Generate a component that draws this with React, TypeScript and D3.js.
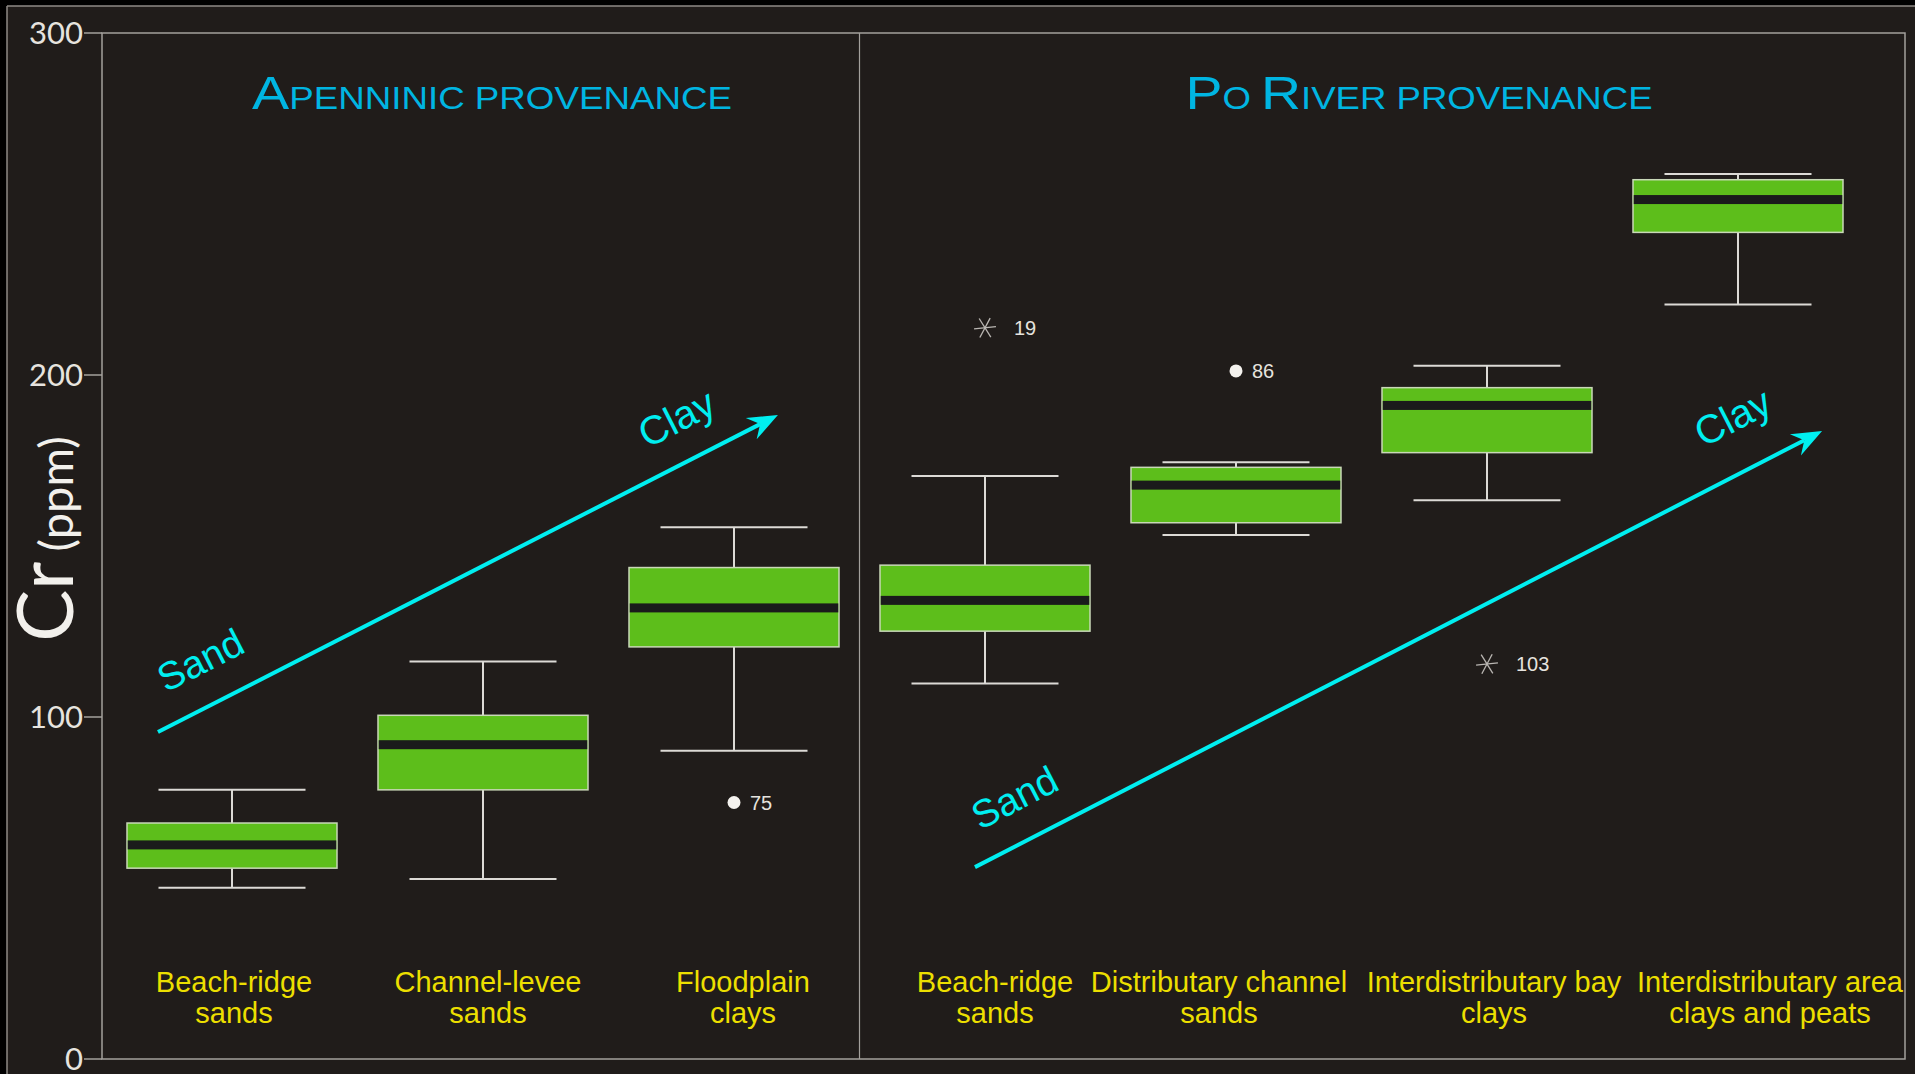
import React from "react";
import * as d3 from "d3";

// Depositional environments (x categories), grouped by provenance
const categories = [
  "Beach-ridge sands (A)",
  "Channel-levee sands",
  "Floodplain clays",
  "Beach-ridge sands (P)",
  "Distributary channel sands",
  "Interdistributary bay clays",
  "Interdistributary area clays and peats",
];
const categoryLines = [
  ["Beach-ridge", "sands"],
  ["Channel-levee", "sands"],
  ["Floodplain", "clays"],
  ["Beach-ridge", "sands"],
  ["Distributary channel", "sands"],
  ["Interdistributary bay", "clays"],
  ["Interdistributary area", "clays and peats"],
];

// Box-plot statistics, Cr (ppm)
const whiskerLow = [50.1, 52.6, 90.1, 109.8, 153.2, 163.4, 220.6];
const q1 = [55.8, 78.7, 120.5, 125.1, 156.8, 177.3, 241.7];
const median = [62.6, 91.9, 131.9, 134.1, 167.8, 191.1, 251.3];
const q3 = [69.0, 100.5, 143.7, 144.4, 173.0, 196.3, 257.1];
const whiskerHigh = [78.7, 116.2, 155.5, 170.5, 174.5, 202.7, 258.8];

// Outliers: category index, value, case label, marker kind
const outlierCat = [2, 3, 4, 5];
const outlierValue = [75, 213.8, 201.2, 115.5];
const outlierLabel = ["75", "19", "86", "103"];
const outlierKind = ["circle", "star", "circle", "star"];

const yTicks = [0, 100, 200, 300];

// Trend annotations (x as fractional category index, y in ppm)
const trendStart = [
  [-0.295, 95.6],
  [2.96, 56.1],
];
const trendEnd = [
  [2.175, 188.3],
  [6.335, 183.6],
];
const sandPos = [
  [-0.12, 115.8],
  [3.124, 75.6],
];
const clayPos = [
  [1.777, 186.5],
  [5.985, 186.8],
];

// Label nudges (px) for the category captions
const labelShift = [2, 5, 9, 10, -17, 7, 32];

const W = 1915;
const H = 1074;
const plot = { left: 102, top: 33, right: 1905, bottom: 1059 };

const BOX_FILL = "#5dbe1b";
const CYAN = "#00eef0";
const TITLE = "#00b5e2";
const YELLOW = "#ecdf00";
const AXIS = "#a3a09c";
const LIGHT = "#e6e3df";
const SANS = "'Liberation Sans', Arial, sans-serif";
const GEO = "Lato, 'Liberation Sans', sans-serif";

export default function App() {
  const y = d3.scaleLinear().domain([0, 300]).range([plot.bottom, plot.top]);
  const x = d3.scalePoint<string>().domain(categories).range([232, 1738]);
  const xi = d3.scaleLinear().domain([0, 6]).range([232, 1738]);

  const boxW = 210;
  const capW = 147;
  const dividerX = (x(categories[2])! + x(categories[3])!) / 2;

  const arrows = trendStart.map((s, k) => {
    const x1 = xi(s[0]);
    const y1 = y(s[1]);
    const x2 = xi(trendEnd[k][0]);
    const y2 = y(trendEnd[k][1]);
    const ang = Math.atan2(y2 - y1, x2 - x1);
    const deg = (ang * 180) / Math.PI;
    const L = 30;
    const hw = 12;
    const notch = 20;
    const ux = Math.cos(ang);
    const uy = Math.sin(ang);
    const px = -uy;
    const py = ux;
    const head = [
      [x2, y2],
      [x2 - ux * L + px * hw, y2 - uy * L + py * hw],
      [x2 - ux * notch, y2 - uy * notch],
      [x2 - ux * L - px * hw, y2 - uy * L - py * hw],
    ];
    const lineEnd = [x2 - ux * notch, y2 - uy * notch];
    return { x1, y1, lineEnd, head, deg };
  });

  const star = (cx: number, cy: number) => {
    const r = 11;
    return [-6, 58, 118].map((a) => {
      const t = (a * Math.PI) / 180;
      return (
        <line
          key={a}
          x1={cx - r * Math.cos(t)}
          y1={cy - r * Math.sin(t)}
          x2={cx + r * Math.cos(t)}
          y2={cy + r * Math.sin(t)}
          stroke="#bab7b3"
          strokeWidth={1.3}
        />
      );
    });
  };

  return (
    <svg
      width={W}
      height={H}
      style={{ position: "absolute", left: 0, top: 0, display: "block" }}
    >
      <rect x={0} y={0} width={W} height={H} fill="#000" />
      <rect x={7} y={6} width={W - 7} height={H - 6} fill="#201c1a" />
      <line x1={7} y1={6} x2={W} y2={6} stroke="#8e8a86" strokeWidth={1.5} />
      <line x1={7} y1={6} x2={7} y2={H} stroke="#8e8a86" strokeWidth={1.5} />

      {/* plot frame */}
      <rect
        x={plot.left}
        y={plot.top}
        width={plot.right - plot.left}
        height={plot.bottom - plot.top}
        fill="none"
        stroke={AXIS}
        strokeWidth={1.5}
      />
      <line
        x1={dividerX}
        y1={plot.top}
        x2={dividerX}
        y2={plot.bottom}
        stroke={AXIS}
        strokeWidth={1.2}
      />

      {/* y axis */}
      {yTicks.map((t) => (
        <g key={t}>
          <line
            x1={84}
            x2={plot.left}
            y1={y(t)}
            y2={y(t)}
            stroke={AXIS}
            strokeWidth={1.5}
          />
          <text
            x={83}
            y={y(t) + 11}
            textAnchor="end"
            fontFamily={GEO}
            fontSize={31}
            fill={LIGHT}
          >
            {t}
          </text>
        </g>
      ))}
      <text
        transform="translate(73,539) rotate(-90)"
        textAnchor="middle"
        fontFamily={GEO}
        fill="#f2f0ec"
      >
        <tspan fontSize={78}>Cr</tspan>
        <tspan fontSize={47} dx={10}>
          (ppm)
        </tspan>
      </text>

      {/* group titles */}
      <text
        transform="translate(492,109) scale(1.185,1)"
        textAnchor="middle"
        fontFamily={SANS}
        fill={TITLE}
      >
        <tspan fontSize={47}>A</tspan>
        <tspan fontSize={31}>PENNINIC PROVENANCE</tspan>
      </text>
      <text
        transform="translate(1419,109) scale(1.18,1)"
        textAnchor="middle"
        fontFamily={SANS}
        fill={TITLE}
      >
        <tspan fontSize={47}>P</tspan>
        <tspan fontSize={31}>O </tspan>
        <tspan fontSize={47}>R</tspan>
        <tspan fontSize={31}>IVER PROVENANCE</tspan>
      </text>

      {/* boxes */}
      {categories.map((c, i) => {
        const cx = x(c)!;
        return (
          <g key={c}>
            <line
              x1={cx}
              x2={cx}
              y1={y(whiskerHigh[i])}
              y2={y(q3[i])}
              stroke="#dcdad6"
              strokeWidth={2}
            />
            <line
              x1={cx}
              x2={cx}
              y1={y(q1[i])}
              y2={y(whiskerLow[i])}
              stroke="#dcdad6"
              strokeWidth={2}
            />
            <line
              x1={cx - capW / 2}
              x2={cx + capW / 2}
              y1={y(whiskerHigh[i])}
              y2={y(whiskerHigh[i])}
              stroke="#dcdad6"
              strokeWidth={2}
            />
            <line
              x1={cx - capW / 2}
              x2={cx + capW / 2}
              y1={y(whiskerLow[i])}
              y2={y(whiskerLow[i])}
              stroke="#dcdad6"
              strokeWidth={2}
            />
            <rect
              x={cx - boxW / 2}
              y={y(q3[i])}
              width={boxW}
              height={y(q1[i]) - y(q3[i])}
              fill={BOX_FILL}
              stroke="#c9d8b8"
              strokeWidth={1.5}
            />
            <rect
              x={cx - boxW / 2 + 0.75}
              y={y(median[i]) - 4.5}
              width={boxW - 1.5}
              height={9}
              fill="#1a1b1b"
            />
            {categoryLines[i].map((ln, j) => (
              <text
                key={j}
                x={cx + labelShift[i]}
                y={992 + j * 31}
                textAnchor="middle"
                fontFamily={SANS}
                fontSize={29}
                fill={YELLOW}
              >
                {ln}
              </text>
            ))}
          </g>
        );
      })}

      {/* outliers */}
      {outlierCat.map((ci, k) => {
        const cx = x(categories[ci])!;
        const cy = y(outlierValue[k]);
        const isStar = outlierKind[k] === "star";
        return (
          <g key={k}>
            {isStar ? star(cx, cy) : <circle cx={cx} cy={cy} r={6.5} fill="#f4f2ee" />}
            <text
              x={cx + (isStar ? 29 : 16)}
              y={cy + 7}
              fontFamily={SANS}
              fontSize={20}
              fill={LIGHT}
            >
              {outlierLabel[k]}
            </text>
          </g>
        );
      })}

      {/* sand → clay trends */}
      {arrows.map((a, k) => (
        <g key={k}>
          <line
            x1={a.x1}
            y1={a.y1}
            x2={a.lineEnd[0]}
            y2={a.lineEnd[1]}
            stroke={CYAN}
            strokeWidth={4}
          />
          <polygon points={a.head.map((p) => p.join(",")).join(" ")} fill={CYAN} />
          <text
            transform={`translate(${xi(sandPos[k][0])},${y(sandPos[k][1])}) rotate(${a.deg})`}
            textAnchor="middle"
            dominantBaseline="middle"
            fontFamily={SANS}
            fontSize={39}
            fill={CYAN}
          >
            Sand
          </text>
          <text
            transform={`translate(${xi(clayPos[k][0])},${y(clayPos[k][1])}) rotate(${a.deg})`}
            textAnchor="middle"
            dominantBaseline="middle"
            fontFamily={SANS}
            fontSize={40}
            fill={CYAN}
          >
            Clay
          </text>
        </g>
      ))}
    </svg>
  );
}
